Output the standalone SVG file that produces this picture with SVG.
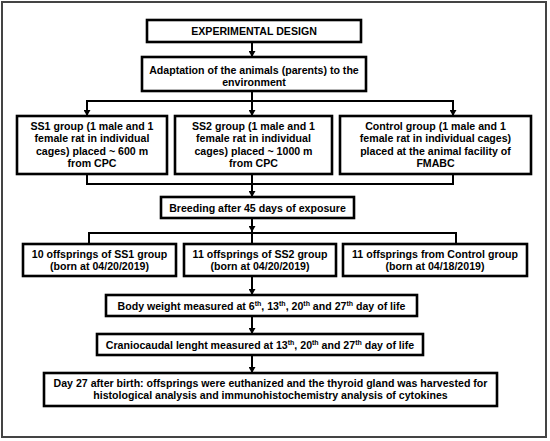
<svg xmlns="http://www.w3.org/2000/svg" width="550" height="441" viewBox="0 0 550 441">
<style>
.box{fill:#fff;stroke:#000;stroke-width:2.6}
.ln{fill:none;stroke:#000;stroke-width:2}
text{font-family:"Liberation Sans",Arial,sans-serif;font-weight:bold;font-size:10.6px;text-anchor:middle;fill:#000}
.sup{font-size:7px}
</style>
<defs>
<marker id="ah" viewBox="0 0 6 7" refX="6" refY="3.5" markerWidth="6" markerHeight="7" markerUnits="userSpaceOnUse" orient="auto">
<path d="M0,0 L6,3.5 L0,7 z" fill="#000"/>
</marker>
</defs>
<rect x="2" y="2" width="544" height="435" fill="#fff" stroke="#444" stroke-width="2"/>
<g id="connectors">
<line class="ln" x1="252" y1="42" x2="252" y2="57" marker-end="url(#ah)"/>
<polyline class="ln" points="252,91 252,101"/>
<line class="ln" x1="86" y1="101" x2="454" y2="101"/>
<line class="ln" x1="87" y1="101" x2="87" y2="116" marker-end="url(#ah)"/>
<line class="ln" x1="252" y1="101" x2="252" y2="116" marker-end="url(#ah)"/>
<line class="ln" x1="453" y1="101" x2="453" y2="116" marker-end="url(#ah)"/>
<polyline class="ln" points="87,174 87,184 453,184 453,174"/>
<line class="ln" x1="252" y1="174" x2="252" y2="197" marker-end="url(#ah)"/>
<line class="ln" x1="252" y1="218" x2="252" y2="232" marker-end="url(#ah)"/>
<polyline class="ln" points="89,244 89,233 456,233 456,244"/>
<line class="ln" x1="252" y1="233" x2="252" y2="244"/>
<line class="ln" x1="252" y1="276" x2="252" y2="295" marker-end="url(#ah)"/>
<line class="ln" x1="252" y1="316" x2="252" y2="334" marker-end="url(#ah)"/>
<line class="ln" x1="252" y1="355" x2="252" y2="373" marker-end="url(#ah)"/>
</g>
<g id="title">
<rect class="box" x="147" y="20" width="214" height="22"/>
<text x="254" y="35">EXPERIMENTAL DESIGN</text>
</g>
<g id="adaptation">
<rect class="box" x="142" y="57" width="224" height="34"/>
<text x="254" y="73.5">Adaptation of the animals (parents) to the</text>
<text x="254" y="85.5">environment</text>
</g>
<g id="ss1">
<rect class="box" x="17" y="116" width="150" height="58"/>
<text x="92" y="129.5">SS1 group (1 male and 1</text>
<text x="92" y="142">female rat in individual</text>
<text x="92" y="154.5">cages) placed ~ 600 m</text>
<text x="92" y="167">from CPC</text>
</g>
<g id="ss2">
<rect class="box" x="175" y="116" width="157" height="58"/>
<text x="253.5" y="129.5">SS2 group (1 male and 1</text>
<text x="253.5" y="142">female rat in individual</text>
<text x="253.5" y="154.5">cages) placed ~ 1000 m</text>
<text x="253.5" y="167">from CPC</text>
</g>
<g id="control">
<rect class="box" x="340" y="116" width="191" height="58"/>
<text x="435.5" y="129.5">Control group (1 male and 1</text>
<text x="435.5" y="142">female rat in individual cages)</text>
<text x="435.5" y="154.5">placed at the animal facility of</text>
<text x="435.5" y="167">FMABC</text>
</g>
<g id="breeding">
<rect class="box" x="161" y="197" width="193" height="21"/>
<text x="257.5" y="211.5">Breeding after 45 days of exposure</text>
</g>
<g id="off-ss1">
<rect class="box" x="23" y="244" width="153" height="32"/>
<text x="99.5" y="257.5">10 offsprings of SS1 group</text>
<text x="99.5" y="270">(born at 04/20/2019)</text>
</g>
<g id="off-ss2">
<rect class="box" x="184" y="244" width="152" height="32"/>
<text x="260" y="257.5">11 offsprings of SS2 group</text>
<text x="260" y="270">(born at 04/20/2019)</text>
</g>
<g id="off-control">
<rect class="box" x="343" y="244" width="184" height="32"/>
<text x="435" y="257.5">11 offsprings from Control group</text>
<text x="435" y="270">(born at 04/18/2019)</text>
</g>
<g id="body-weight">
<rect class="box" x="106" y="295" width="311" height="21"/>
<text x="261.5" y="309.5">Body weight measured at 6<tspan class="sup" dy="-4">th</tspan><tspan dy="4">, 13</tspan><tspan class="sup" dy="-4">th</tspan><tspan dy="4">, 20</tspan><tspan class="sup" dy="-4">th</tspan><tspan dy="4"> and 27</tspan><tspan class="sup" dy="-4">th</tspan><tspan dy="4"> day of life</tspan></text>
</g>
<g id="craniocaudal">
<rect class="box" x="97" y="334" width="326" height="21"/>
<text x="260" y="348.5">Craniocaudal lenght measured at 13<tspan class="sup" dy="-4">th</tspan><tspan dy="4">, 20</tspan><tspan class="sup" dy="-4">th</tspan><tspan dy="4"> and 27</tspan><tspan class="sup" dy="-4">th</tspan><tspan dy="4"> day of life</tspan></text>
</g>
<g id="day27">
<rect class="box" x="44" y="373" width="453" height="33"/>
<text x="270.5" y="386.5">Day 27 after birth: offsprings were euthanized and the thyroid gland was harvested for</text>
<text x="270.5" y="398.5">histological analysis and immunohistochemistry analysis of cytokines</text>
</g>
</svg>
